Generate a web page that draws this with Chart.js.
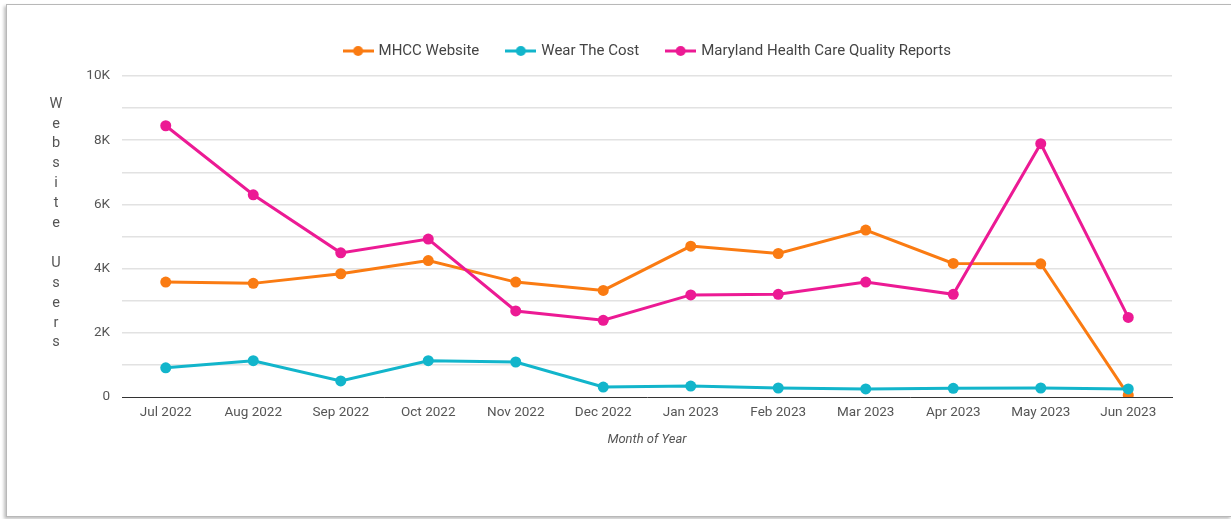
<!DOCTYPE html>
<html>
<head>
<meta charset="utf-8">
<script src="https://cdn.jsdelivr.net/npm/chart.js@4"></script>
<style>
  html, body { margin: 0; padding: 0; background: #fff; overflow: hidden; }
  #frame {
    position: absolute; left: 6px; top: 4px; width: 1224px; height: 511px;
    border: 1px solid #b8b8b8; box-shadow: -2px 2px 3px rgba(0,0,0,0.25);
    background: #fff;
  }
  #wrap { position: absolute; left: 0; top: 0; width: 1231px; height: 519px; }
</style>
</head>
<body>
<div id="frame"></div>
<div id="wrap"><canvas id="myChart" width="1231" height="519"></canvas></div>
<script>
var months = ["Jul 2022", "Aug 2022", "Sep 2022", "Oct 2022", "Nov 2022", "Dec 2022",
    "Jan 2023", "Feb 2023", "Mar 2023", "Apr 2023", "May 2023", "Jun 2023"];
var mhccWebsite = [3580, 3540, 3840, 4250, 3580, 3320, 4700, 4470, 5200, 4160, 4150, 60];
var wearTheCost = [910, 1130, 500, 1130, 1090, 310, 340, 280, 250, 270, 280, 250];
var qualityReports = [8450, 6300, 4490, 4920, 2680, 2390, 3180, 3200, 3580, 3200, 7890, 2480];

var seriesNames = ["MHCC Website", "Wear The Cost", "Maryland Health Care Quality Reports"];
var colors = ["#fa7b12", "#12b5cb", "#ec1a94"];

// legend marker: short line with a dot in the middle
function legendMarker(color) {
    var c = document.createElement("canvas");
    c.width = 31;
    c.height = 12;
    var g = c.getContext("2d");
    g.strokeStyle = color;
    g.lineWidth = 3;
    g.beginPath();
    g.moveTo(0, 6);
    g.lineTo(31, 6);
    g.stroke();
    g.fillStyle = color;
    g.beginPath();
    g.arc(15.5, 6, 5, 0, Math.PI * 2);
    g.fill();
    return c;
}
var markers = colors.map(legendMarker);

// stacked letters for the y axis title
var yTitlePlugin = {
    id: "yTitle",
    afterDraw: function (chart) {
        var ctx = chart.ctx;
        var text = "Website Users";
        var y = chart.chartArea.top + 28;
        ctx.save();
        ctx.font = "14.5px Roboto";
        ctx.fillStyle = "#555";
        ctx.textAlign = "center";
        ctx.textBaseline = "middle";
        for (var i = 0; i < text.length; i++) {
            ctx.fillText(text[i], 56, y + i * 19.9);
        }
        ctx.restore();
    }
};

function makeSet(i, values, order) {
    return {
        label: seriesNames[i],
        data: values,
        borderColor: colors[i],
        backgroundColor: colors[i],
        pointBackgroundColor: colors[i],
        pointBorderWidth: 0,
        pointRadius: 5.5,
        pointHoverRadius: 6,
        borderWidth: 3,
        tension: 0,
        order: order
    };
}

var canvas = document.getElementById("myChart").getContext("2d");
window.line = new Chart(canvas, {
    type: "line",
    data: {
        labels: months,
        datasets: [
            makeSet(0, mhccWebsite, 2),
            makeSet(1, wearTheCost, 0),
            makeSet(2, qualityReports, 1)
        ]
    },
    plugins: [yTitlePlugin],
    options: {
        responsive: false,
        animation: false,
        layout: {
            padding: { left: 65, right: 0, top: 15, bottom: 67.2 }
        },
        plugins: {
            legend: {
                position: "top",
                labels: {
                    usePointStyle: true,
                    pointStyleWidth: 26,
                    padding: 28.5,
                    color: "#444",
                    font: { family: "Roboto", size: 15 },
                    generateLabels: function (chart) {
                        var items = Chart.defaults.plugins.legend.labels.generateLabels(chart);
                        items.sort(function (a, b) { return a.datasetIndex - b.datasetIndex; });
                        items.forEach(function (it) {
                            it.pointStyle = markers[it.datasetIndex];
                        });
                        return items;
                    }
                }
            },
            tooltip: { enabled: false }
        },
        scales: {
            x: {
                offset: true,
                grid: { display: false, drawTicks: false, offset: true },
                border: { display: true, color: "#333", width: 1 },
                ticks: {
                    padding: 8,
                    maxRotation: 0,
                    autoSkip: false,
                    color: "#555",
                    font: { family: "Roboto", size: 13.5 }
                },
                title: {
                    display: true,
                    text: "Month of Year",
                    color: "#555",
                    padding: { top: 3, bottom: 4 },
                    font: { family: "Roboto", size: 13, style: "italic" }
                },
                afterFit: function (s) { s.height = 54.8; }
            },
            xTop: {
                type: "category",
                position: "top",
                display: true,
                grid: { display: false },
                border: { display: false },
                ticks: { display: false },
                afterFit: function (s) { s.height = 7.5; }
            },
            y: {
                min: 0,
                max: 10000,
                border: { display: false },
                grid: {
                    drawTicks: false,
                    lineWidth: 1.5,
                    color: function (c) {
                        return c.tick && c.tick.value === 0 ? "rgba(0,0,0,0)" : "#e2e2e2";
                    }
                },
                ticks: {
                    stepSize: 1000,
                    padding: 12,
                    color: "#555",
                    font: { family: "Roboto", size: 13.5 },
                    callback: function (v) {
                        if (v % 2000 !== 0) return "";
                        return v === 0 ? "0" : (v / 1000) + "K";
                    }
                },
                afterFit: function (s) { s.width = 57; }
            },
            yR: {
                position: "right",
                display: true,
                grid: { display: false },
                border: { display: false },
                ticks: { display: false },
                afterFit: function (s) { s.width = 59; }
            }
        }
    }
});
</script>
</body>
</html>
